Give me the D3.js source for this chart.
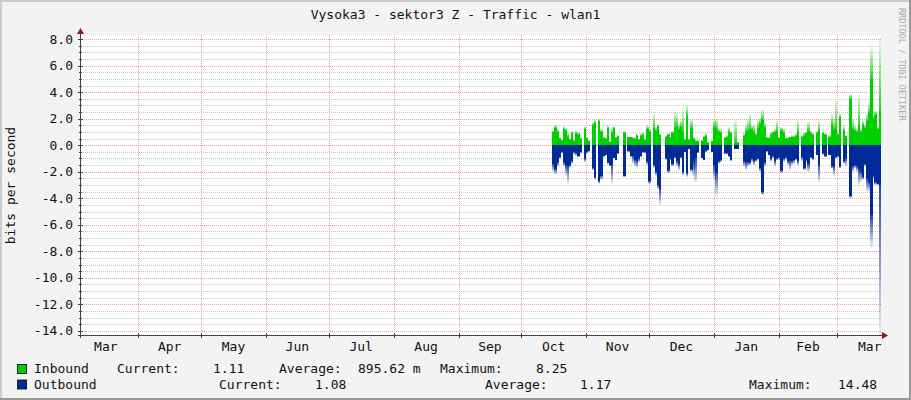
<!DOCTYPE html>
<html>
<head>
<meta charset="utf-8">
<script src="https://cdn.jsdelivr.net/npm/d3@7"></script>
<style>
  body { margin: 0; background: #f3f3f3; }
  svg { display: block; }
  text { font-family: "DejaVu Sans Mono", monospace; }
</style>
</head>
<body>
<svg id="chart" width="911" height="400"></svg>
<script>
// graph period and first sample (one sample per day)
var period = ["2013-03-04T14:53:00Z", "2014-03-21T21:07:00Z"];
var firstSample = "2013-10-15T18:00:00Z";

// inbound / outbound, average and peak per day (null = no data)
var inAvg = [1.0,1.3,1.0,0.5,0.35,1.2,1.1,0.6,0.4,0.9,0.3,0.9,0.8,0.5,null,1.2,0.5,0.3,null,1.5,
  1.7,null,1.8,1.0,0.55,0.5,1.3,0.25,0.9,1.3,0.55,0.7,null,null,0.95,null,0.6,0.6,0.55,0.5,
  0.7,0.4,0.7,0.8,0.4,1.2,1.0,null,1.3,1.1,1.4,0.8,null,null,0.6,0.8,0.55,0.9,1.3,1.4,
  1.2,1.4,1.0,0.4,2.2,0.4,1.3,0.5,0.3,0.3,null,0.3,0.6,0.7,0.2,null,0.3,1.3,1.2,1.0,
  0.9,null,0.55,0.6,1.0,0.9,null,0.2,0.2,null,null,0.7,1.0,1.1,1.2,1.2,1.0,0.8,1.3,1.6,
  1.9,1.3,0.55,0.55,0.8,0.9,1.0,1.1,0.55,1.1,0.9,0.5,0.5,0.6,0.6,0.6,0.7,1.0,null,0.6,
  0.7,0.9,1.1,0.9,0.8,null,0.9,1.1,null,0.9,0.8,null,0.6,1.5,1.2,1.3,0.8,2.1,null,1.1,
  0.7,null,3.5,1.2,1.1,1.0,1.5,1.0,1.5,1.3,1.8,2.4,5.0,2.0,2.3,1.2,2.6];
var inMax = [1.1,1.55,1.2,0.6,0.4,1.45,1.3,1.0,0.5,1.1,0.45,1.1,1.0,0.6,null,1.45,0.65,0.4,null,1.75,
  1.9,null,2.0,1.25,0.65,0.55,1.5,0.3,1.4,1.45,0.65,0.75,null,null,1.05,null,0.65,0.65,0.6,0.6,
  0.9,0.5,0.9,1.0,0.5,1.5,1.25,null,2.4,1.4,1.6,0.9,null,null,0.75,0.9,0.65,1.1,2.6,2.4,
  1.6,1.9,2.8,0.5,3.05,0.5,2.0,0.6,0.4,0.4,null,0.4,0.75,0.9,0.25,null,0.35,2.0,2.0,1.3,
  1.25,null,0.65,0.75,1.4,1.1,null,1.9,0.25,null,null,0.9,1.6,2.0,2.4,1.5,1.6,0.9,1.9,2.1,
  2.7,1.75,0.65,0.6,1.0,1.1,1.25,1.9,0.6,1.4,1.25,0.6,0.6,0.65,0.75,0.75,0.9,1.9,null,0.75,
  1.0,1.0,1.75,1.1,0.9,null,1.1,1.9,null,1.0,0.9,null,0.75,2.4,2.0,3.4,0.9,2.4,null,1.5,
  0.75,null,3.9,2.0,1.5,1.25,3.9,1.25,1.9,1.6,2.4,3.25,7.4,2.25,2.6,1.4,8.25];
var outAvg = [1.4,1.8,1.3,0.9,0.5,1.3,1.5,1.6,1.5,1.2,0.5,0.6,0.8,0.5,null,1.0,0.5,0.4,null,1.7,
  2.4,null,2.7,2.3,0.8,0.7,1.3,1.5,1.5,1.0,1.1,0.6,null,null,2.3,null,0.45,0.8,0.8,1.1,
  1.2,1.0,0.8,0.5,0.5,1.2,2.7,null,1.5,2.0,3.0,3.3,null,null,1.0,1.9,1.0,1.4,0.9,1.2,
  1.4,0.9,2.0,0.5,2.1,0.3,1.8,1.2,1.0,0.5,null,1.0,1.1,0.45,0.35,null,0.5,1.5,2.0,1.2,
  1.1,null,0.6,0.6,0.8,1.1,null,0.25,0.25,null,null,1.2,1.3,1.3,1.3,1.0,1.2,1.1,1.0,1.7,
  3.5,1.3,0.45,0.7,1.0,0.8,1.2,1.0,0.9,1.9,1.0,0.9,1.2,1.2,1.2,1.1,1.0,1.2,null,0.9,
  1.7,1.1,1.4,0.9,1.0,null,0.7,1.5,null,0.6,0.8,null,0.7,1.6,1.6,0.9,0.8,1.6,null,1.2,
  1.0,null,3.8,1.6,1.5,1.6,1.8,2.0,2.4,1.4,2.5,2.8,5.3,2.3,2.8,2.9,3.0];
var outMax = [2.0,2.2,1.6,1.0,0.6,1.6,2.3,2.9,1.7,1.4,0.7,0.8,0.9,0.6,null,1.3,0.65,0.5,null,1.9,
  2.6,null,2.9,2.6,0.9,0.75,1.4,1.6,2.9,1.0,1.15,0.65,null,null,2.4,null,0.5,0.9,1.4,1.6,
  1.7,1.3,0.9,0.6,0.6,1.5,2.9,null,1.7,2.3,3.3,4.5,null,null,1.1,2.1,1.15,1.6,1.0,1.6,
  1.9,1.0,2.3,0.5,2.4,0.3,2.0,2.3,2.8,0.6,null,1.0,1.15,0.5,0.4,null,0.5,2.6,3.8,1.4,
  1.3,null,0.65,0.7,0.9,1.2,null,0.3,0.3,null,null,1.6,1.9,1.6,1.5,1.25,1.5,1.25,1.1,2.0,
  3.75,1.6,0.5,0.75,1.25,1.0,1.6,1.15,1.1,2.1,1.25,1.1,1.5,1.9,1.5,1.4,1.15,1.5,null,1.2,
  1.9,1.3,2.0,1.0,1.15,null,0.75,2.75,null,0.75,0.9,null,0.75,1.75,2.3,1.0,0.9,1.75,null,1.4,
  1.6,null,4.0,2.0,1.75,2.0,3.0,2.75,2.6,1.6,3.5,3.5,7.65,2.5,3.0,3.0,14.48];

var yTicks = [8, 6, 4, 2, 0, -2, -4, -6, -8, -10, -12, -14];
var seriesNames = ["Inbound", "Outbound"];
var seriesColors = ["#00cf00", "#002a97"];
var legendCurrent = ["1.11", "1.08"];
var legendAverage = ["895.62 m", "1.17"];
var legendMaximum = ["8.25", "14.48"];

var title = "Vysoka3 - sektor3 Z - Traffic - wlan1";
var yTitle = "bits per second";
var watermark = "RRDTOOL / TOBI OETIKER";

var width = 911, height = 400;
var plot = { left: 81, right: 881, top: 35, bottom: 335 };
var fontSize = "13px";

var svg = d3.select("#chart");

// canvas + frame
svg.append("rect").attr("width", width).attr("height", height).attr("fill", "#f3f3f3");
svg.append("rect").attr("width", width).attr("height", 2).attr("fill", "#cbcbcb");
svg.append("rect").attr("width", 2).attr("height", height).attr("fill", "#cbcbcb");
svg.append("rect").attr("y", height - 2).attr("width", width).attr("height", 2).attr("fill", "#999");
svg.append("rect").attr("x", width - 2).attr("width", 2).attr("height", height).attr("fill", "#999");

svg.append("rect")
    .attr("x", plot.left).attr("y", plot.top)
    .attr("width", plot.right - plot.left).attr("height", plot.bottom - plot.top)
    .attr("fill", "#fff");

var x = d3.scaleUtc()
    .domain(period.map(function (d) { return new Date(d); }))
    .range([plot.left, plot.right]);
var y = d3.scaleLinear()
    .domain([-14.32, 8.32])
    .range([plot.bottom, plot.top]);

// gradients for the peak part of each bar
var defs = svg.append("defs");
function fade(id, color, down) {
    var g = defs.append("linearGradient").attr("id", id)
        .attr("x1", 0).attr("x2", 0)
        .attr("y1", down ? 0 : 1).attr("y2", down ? 1 : 0);
    g.append("stop").attr("offset", 0).attr("stop-color", color).attr("stop-opacity", 0.85);
    g.append("stop").attr("offset", 1).attr("stop-color", color).attr("stop-opacity", 0.08);
}
fade("fadeIn", seriesColors[0], false);
fade("fadeOut", seriesColors[1], true);
defs.append("clipPath").attr("id", "plotClip").append("rect")
    .attr("x", plot.left).attr("y", plot.top)
    .attr("width", plot.right - plot.left).attr("height", plot.bottom - plot.top);

// grid
var grid = svg.append("g").attr("stroke-dasharray", "1,1").attr("shape-rendering", "crispEdges");
var minor = d3.range(-14, 8.01, 0.5).filter(function (v) { return v % 2 !== 0; });
grid.selectAll(".minor").data(minor).join("line")
    .attr("x1", plot.left - 2).attr("x2", plot.right)
    .attr("y1", function (d) { return Math.round(y(d)) + 0.5; })
    .attr("y2", function (d) { return Math.round(y(d)) + 0.5; })
    .attr("stroke", "#c8c8c8");
grid.selectAll(".major").data(yTicks).join("line")
    .attr("x1", plot.left - 3).attr("x2", plot.right)
    .attr("y1", function (d) { return Math.round(y(d)) + 0.5; })
    .attr("y2", function (d) { return Math.round(y(d)) + 0.5; })
    .attr("stroke", "#f0a0a0");
var monthStarts = d3.utcMonth.range(x.domain()[0], x.domain()[1]);
grid.selectAll(".month").data(monthStarts).join("line")
    .attr("x1", function (d) { return Math.round(x(d)) + 0.5; })
    .attr("x2", function (d) { return Math.round(x(d)) + 0.5; })
    .attr("y1", plot.top).attr("y2", plot.bottom + 3)
    .attr("stroke", "#f0a0a0");

// bars
var t0 = new Date(firstSample);
var days = inAvg.map(function (v, i) {
    var d0 = d3.utcDay.offset(t0, i);
    return { d0: d0, d1: d3.utcDay.offset(d0, 1), inAvg: v, inMax: inMax[i], outAvg: outAvg[i], outMax: outMax[i] };
}).filter(function (d) { return d.inAvg !== null; });

var bars = svg.append("g").attr("clip-path", "url(#plotClip)").attr("shape-rendering", "crispEdges");
function bx(d) { return x(d.d0); }
function bw(d) { return x(d.d1) - x(d.d0) + 0.2; }
bars.selectAll(".inPeak").data(days).join("rect")
    .attr("x", bx).attr("width", bw)
    .attr("y", function (d) { return y(d.inMax); })
    .attr("height", function (d) { return y(d.inAvg) - y(d.inMax); })
    .attr("fill", "url(#fadeIn)");
bars.selectAll(".inAvg").data(days).join("rect")
    .attr("x", bx).attr("width", bw)
    .attr("y", function (d) { return y(d.inAvg); })
    .attr("height", function (d) { return y(0) - y(d.inAvg); })
    .attr("fill", seriesColors[0]);
bars.selectAll(".outPeak").data(days).join("rect")
    .attr("x", bx).attr("width", bw)
    .attr("y", function (d) { return y(-d.outAvg); })
    .attr("height", function (d) { return y(-d.outMax) - y(-d.outAvg); })
    .attr("fill", "url(#fadeOut)");
bars.selectAll(".outAvg").data(days).join("rect")
    .attr("x", bx).attr("width", bw)
    .attr("y", y(0))
    .attr("height", function (d) { return y(-d.outAvg) - y(0); })
    .attr("fill", seriesColors[1]);

// axes
var axisColor = "#404040", arrowColor = "#8b1a1a";
var ax = svg.append("g").attr("stroke", axisColor).attr("shape-rendering", "crispEdges");
ax.append("line").attr("x1", plot.left - 0.5).attr("x2", plot.left - 0.5)
    .attr("y1", plot.bottom + 3).attr("y2", plot.top - 3);
ax.append("line").attr("x1", plot.left - 3).attr("x2", plot.right + 3)
    .attr("y1", plot.bottom + 0.5).attr("y2", plot.bottom + 0.5);
ax.selectAll(".ty").data(yTicks).join("line")
    .attr("x1", plot.left - 3).attr("x2", plot.left + 2)
    .attr("y1", function (d) { return Math.round(y(d)) + 0.5; })
    .attr("y2", function (d) { return Math.round(y(d)) + 0.5; });
ax.selectAll(".tym").data(minor).join("line")
    .attr("x1", plot.left - 2).attr("x2", plot.left + 1)
    .attr("y1", function (d) { return Math.round(y(d)) + 0.5; })
    .attr("y2", function (d) { return Math.round(y(d)) + 0.5; });
ax.selectAll(".tx").data(monthStarts).join("line")
    .attr("x1", function (d) { return Math.round(x(d)) + 0.5; })
    .attr("x2", function (d) { return Math.round(x(d)) + 0.5; })
    .attr("y1", plot.bottom - 2).attr("y2", plot.bottom + 3);
svg.append("path").attr("fill", arrowColor)
    .attr("d", "M" + (plot.left - 4) + "," + (plot.top - 1) + "L" + (plot.left + 3) + "," + (plot.top - 1) +
        "L" + (plot.left - 0.5) + "," + (plot.top - 7) + "Z");
svg.append("path").attr("fill", arrowColor)
    .attr("d", "M" + (plot.right + 1) + "," + (plot.bottom - 3) + "L" + (plot.right + 1) + "," + (plot.bottom + 4) +
        "L" + (plot.right + 7) + "," + (plot.bottom + 0.5) + "Z");

// axis labels
var labels = svg.append("g").attr("font-size", fontSize).attr("fill", "#111");
labels.selectAll(".yl").data(yTicks).join("text")
    .attr("x", plot.left - 8)
    .attr("y", function (d) { return y(d) + 4.5; })
    .attr("text-anchor", "end")
    .text(function (d) { return d3.format(".1f")(d).replace("−", "-"); });
var monthLabel = d3.utcFormat("%b");
var labelMonths = d3.utcMonth.range(d3.utcMonth.floor(x.domain()[0]), x.domain()[1]);
labels.selectAll(".xl").data(labelMonths).join("text")
    .attr("x", function (d) { return (x(d) + x(d3.utcMonth.offset(d, 1))) / 2; })
    .attr("y", plot.bottom + 16)
    .attr("text-anchor", "middle")
    .text(monthLabel);

labels.append("text")
    .attr("x", width / 2).attr("y", 19)
    .attr("text-anchor", "middle")
    .text(title);
labels.append("text")
    .attr("transform", "translate(15," + ((plot.top + plot.bottom) / 2 + 0.5) + ") rotate(-90)")
    .attr("text-anchor", "middle")
    .text(yTitle);
svg.append("text")
    .attr("transform", "translate(899,8) rotate(90)")
    .attr("font-size", "8.5px")
    .attr("fill", "#aaa")
    .text(watermark);

// legend
var legendRows = [
    { y: 373, name: 0, cur: [117, 213], avg: [279, 358], max: [440, 536] },
    { y: 388.5, name: 1, cur: [219, 315], avg: [485, 580], max: [749, 838] }
];
var legend = svg.append("g").attr("font-size", fontSize).attr("fill", "#111");
legendRows.forEach(function (r, i) {
    svg.append("rect")
        .attr("x", 17.5).attr("y", r.y - 8.5)
        .attr("width", 9).attr("height", 9)
        .attr("fill", seriesColors[i]).attr("stroke", "#222");
    legend.append("text").attr("x", 34).attr("y", r.y).text(seriesNames[i]);
    legend.append("text").attr("x", r.cur[0]).attr("y", r.y).text("Current:");
    legend.append("text").attr("x", r.cur[1]).attr("y", r.y).text(legendCurrent[i]);
    legend.append("text").attr("x", r.avg[0]).attr("y", r.y).text("Average:");
    legend.append("text").attr("x", r.avg[1]).attr("y", r.y).text(legendAverage[i]);
    legend.append("text").attr("x", r.max[0]).attr("y", r.y).text("Maximum:");
    legend.append("text").attr("x", r.max[1]).attr("y", r.y).text(legendMaximum[i]);
});
</script>
</body>
</html>
